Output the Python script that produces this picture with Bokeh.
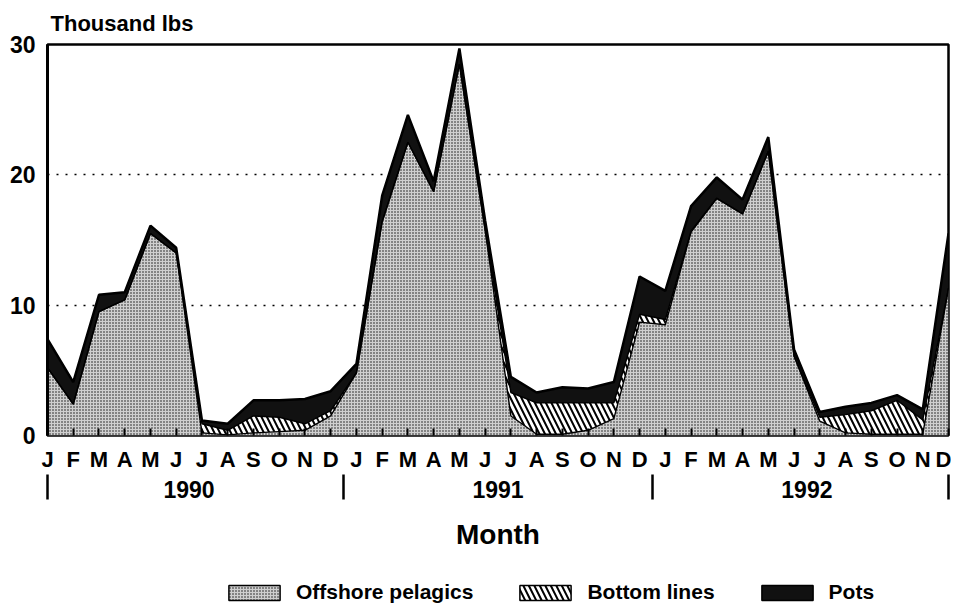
from bokeh.plotting import figure
from bokeh.layouts import column
from bokeh.models import (Range1d, FixedTicker, LinearAxis, Legend, LegendItem,
                          ColumnDataSource)
from bokeh.transform import stack
from bokeh.embed import file_html
from bokeh.resources import INLINE

month_labels = list("JFMAMJJASOND") * 3
years = ["1990", "1991", "1992"]

# Thousand lbs per month, Jan 1990 .. Dec 1992
pelagic = [5.2, 2.4, 9.5, 10.4, 15.5, 14.0, 0.2, 0.05, 0.2, 0.3, 0.4, 1.5,
           4.8, 16.4, 22.5, 18.7, 28.5, 15.8, 1.5, 0.1, 0.1, 0.4, 1.3, 8.7,
           8.5, 15.6, 18.2, 17.0, 21.8, 6.1, 1.1, 0.2, 0.1, 0.1, 0.1, 11.3]
bottom = [0, 0, 0, 0, 0, 0, 0.7, 0.35, 1.3, 1.1, 0.5, 0.4,
          0, 0, 0, 0, 0, 0, 1.8, 2.4, 2.4, 2.1, 1.2, 0.6,
          0.4, 0.1, 0, 0, 0, 0, 0.3, 1.4, 1.8, 2.6, 1.1, 0]
pots = [2.2, 1.7, 1.3, 0.6, 0.6, 0.4, 0.25, 0.5, 1.2, 1.3, 1.9, 1.5,
        0.7, 2.0, 2.1, 0.8, 1.2, 0.7, 1.2, 0.8, 1.2, 1.1, 1.6, 2.9,
        2.2, 1.9, 1.6, 1.1, 1.1, 0.5, 0.4, 0.6, 0.6, 0.4, 0.8, 4.2]
series_names = ["Offshore pelagics", "Bottom lines", "Pots"]

x = list(range(len(pelagic)))
src = ColumnDataSource(dict(x=x, pel=pelagic, bot=bottom, pots=pots))

FONT = "Liberation Sans"

p = figure(frame_width=901, frame_height=391, x_range=Range1d(0, 35), y_range=Range1d(0, 30),
           output_backend="svg", toolbar_location=None,
           min_border_left=47, min_border_right=3, min_border_top=42, min_border_bottom=130)

p.title.text = "Thousand lbs"
p.title.align = "left"
p.title.offset = 3
p.title.text_font = FONT
p.title.text_font_size = "22px"
p.title.text_font_style = "bold"
p.title.text_color = "black"
p.title.standoff = 17

# areas
PEL_FILL = dict(fill_color="#cfcfcf", hatch_pattern="dot", hatch_color="#111111",
                hatch_scale=3, hatch_weight=1.6)
BOT_FILL = dict(fill_color="white", hatch_pattern="left_diagonal_line", hatch_color="black",
                hatch_scale=11, hatch_weight=2)
POT_FILL = dict(fill_color="#111111")

p.varea(x="x", y1=0, y2=stack("pel"), source=src, **PEL_FILL)
p.varea(x="x", y1=stack("pel"), y2=stack("pel", "bot"), source=src, **BOT_FILL)
p.varea(x="x", y1=stack("pel", "bot"), y2=stack("pel", "bot", "pots"), source=src, **POT_FILL)
p.line(x="x", y=stack("pel"), source=src, line_color="black", line_width=1.4)
p.line(x="x", y=stack("pel", "bot"), source=src, line_color="black", line_width=1.4)
p.line(x="x", y=stack("pel", "bot", "pots"), source=src, line_color="black", line_width=2.5)

# grid
p.xgrid.visible = False
p.ygrid.ticker = FixedTicker(ticks=[10, 20])
p.ygrid.grid_line_color = "black"
p.ygrid.grid_line_dash = "2 7"
p.ygrid.grid_line_width = 1.5
p.ygrid.level = "underlay"

p.outline_line_color = "black"
p.outline_line_width = 2.5
p.outline_line_alpha = 1

# y axis
ya = p.yaxis[0]
ya.ticker = FixedTicker(ticks=[0, 10, 20, 30])
ya.major_label_text_font = FONT
ya.major_label_text_font_size = "23px"
ya.major_label_text_font_style = "bold"
ya.major_label_text_color = "black"
ya.major_tick_in = 0
ya.major_tick_out = 0
ya.minor_tick_line_color = None
ya.axis_line_width = 3
ya.major_label_standoff = 12

# x axis: months
xa = p.xaxis[0]
xa.ticker = FixedTicker(ticks=x)
xa.major_label_overrides = {i: m for i, m in enumerate(month_labels)}
xa.major_label_text_font = FONT
xa.major_label_text_font_size = "22px"
xa.major_label_text_font_style = "bold"
xa.major_label_text_color = "black"
xa.major_tick_in = 7
xa.major_tick_out = 0
xa.major_tick_line_width = 2
xa.minor_tick_line_color = None
xa.axis_line_color = None
xa.major_label_standoff = 11

# x axis: years and separators
year_axis = LinearAxis(
    ticker=FixedTicker(ticks=[5.5, 17.5, 29.5], minor_ticks=[0, 11.5, 23.5, 35]),
    major_label_overrides={5.5: years[0], 17.5: years[1], 29.5: years[2]},
    major_label_text_font=FONT, major_label_text_font_size="23px",
    major_label_text_font_style="bold", major_label_text_color="black",
    major_tick_in=0, major_tick_out=0, major_label_standoff=-19,
    minor_tick_in=0, minor_tick_out=25, minor_tick_line_width=2.5,
    axis_line_color=None,
    axis_label="Month", axis_label_text_font=FONT, axis_label_text_font_size="28px",
    axis_label_text_font_style="bold", axis_label_text_color="black",
    axis_label_standoff=18,
)
p.add_layout(year_axis, "below")

# legend strip: a small blank figure holding the legend
lf = figure(width=951, height=50, x_range=Range1d(0, 1), y_range=Range1d(0, 1),
            output_backend="svg", toolbar_location=None,
            x_axis_type=None, y_axis_type=None, min_border=0)
lf.outline_line_color = None
nan = float("nan")
proxy = ColumnDataSource(dict(x=[nan], y=[nan]))
g1 = lf.rect(x="x", y="y", width=1, height=1, source=proxy, line_color="black", line_width=1.5, **PEL_FILL)
g2 = lf.rect(x="x", y="y", width=1, height=1, source=proxy, line_color="black", line_width=1.5, **BOT_FILL)
g3 = lf.rect(x="x", y="y", width=1, height=1, source=proxy, line_color="black", line_width=1.5, **POT_FILL)
legend = Legend(items=[LegendItem(label=series_names[0], renderers=[g1]),
                       LegendItem(label=series_names[1], renderers=[g2]),
                       LegendItem(label=series_names[2], renderers=[g3])],
                orientation="horizontal", location=(175, 11),
                border_line_color=None, background_fill_alpha=0,
                glyph_width=64, glyph_height=19, label_standoff=10, spacing=40,
                label_text_font=FONT, label_text_font_size="21px", label_text_font_style="bold",
                label_text_color="black", margin=0, padding=4)
lf.add_layout(legend)

layout = column(p, lf, spacing=0)
open("out.html", "w").write(file_html(layout, INLINE))
